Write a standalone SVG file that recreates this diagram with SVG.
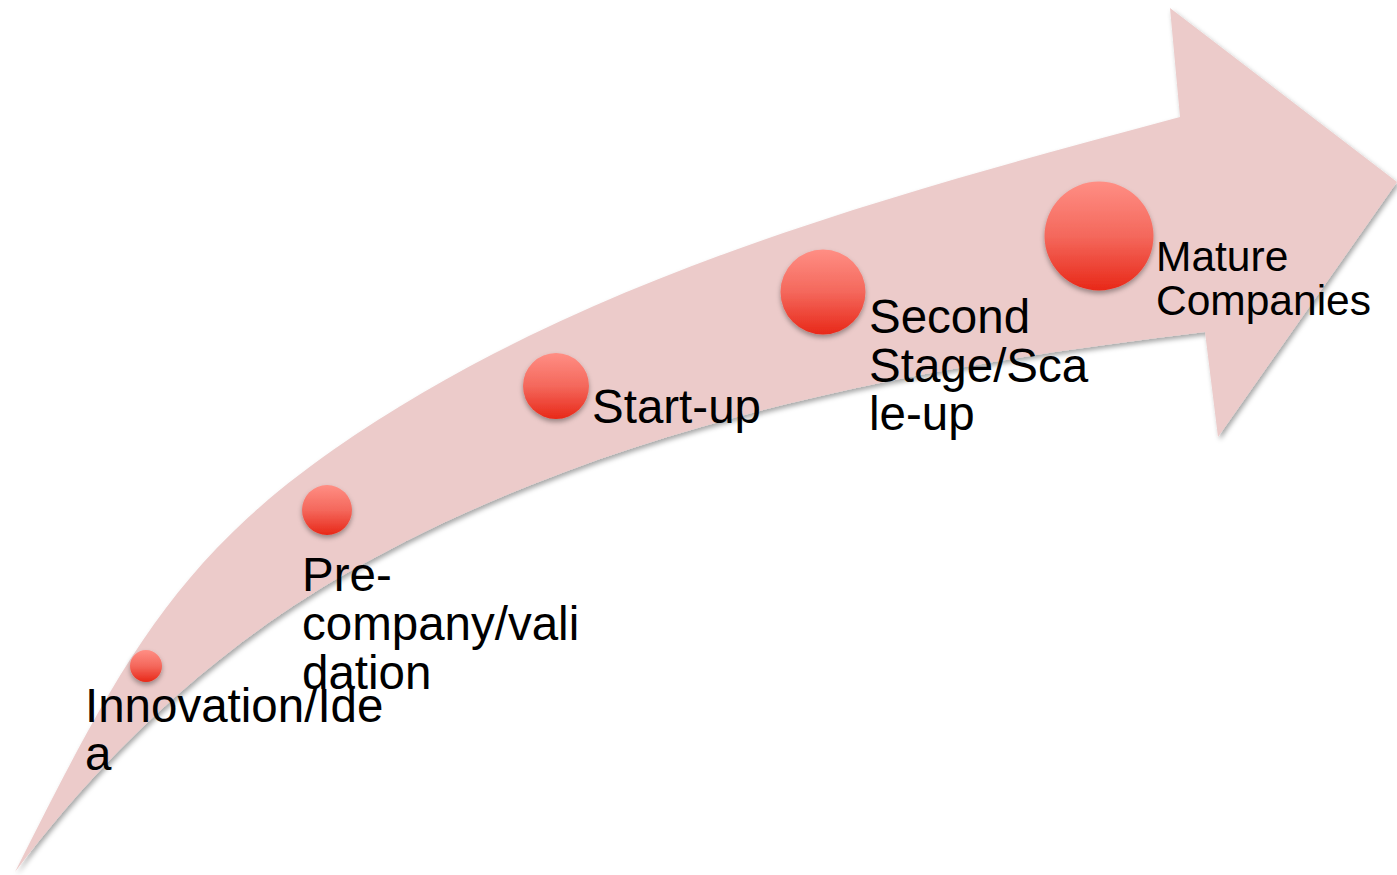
<svg xmlns="http://www.w3.org/2000/svg" width="1397" height="875" viewBox="0 0 1397 875">
  <style>
    .lbl { font-family: "Liberation Sans", Arial, sans-serif; font-size: 47.5px; fill: #000; }
    .lbl-sm { font-family: "Liberation Sans", Arial, sans-serif; font-size: 42.5px; fill: #000; }
    .dot { fill: url(#dotGrad); filter: url(#dotShadow); }
  </style>
  <defs>
    <linearGradient id="dotGrad" x1="0" y1="0" x2="0" y2="1">
      <stop offset="0" stop-color="#FF8E84"/>
      <stop offset="0.5" stop-color="#F4685C"/>
      <stop offset="1" stop-color="#E82818"/>
    </linearGradient>
    <filter id="arrowShadow" x="-5%" y="-5%" width="110%" height="115%">
      <feDropShadow dx="2" dy="3" stdDeviation="2.5" flood-color="#000" flood-opacity="0.35"/>
    </filter>
    <filter id="dotShadow" x="-30%" y="-30%" width="160%" height="170%">
      <feDropShadow dx="0" dy="3" stdDeviation="2.5" flood-color="#000" flood-opacity="0.35"/>
    </filter>
  </defs>
  <rect width="1397" height="875" fill="#fff"/>
  <g id="connectors">
    <path id="arrow" d="M 15,872 C 114,676 169,564.6 333,450 C 578.7,278.1 890.2,194.7 1180,117 L 1170,8 L 1397,182 L 1218,437 L 1205,332 C 907.1,367.7 607.7,424.5 347,573 C 216.6,647.3 105,752 15,872 Z" fill="#ECCBCA" filter="url(#arrowShadow)"/>
  </g>
  <g id="node-innovation">
    <circle class="dot" cx="146" cy="666" r="16"/>
    <text class="lbl" x="85" y="722">Innovation/Ide</text>
    <text class="lbl" x="85" y="770">a</text>
  </g>
  <g id="node-precompany">
    <circle class="dot" cx="327" cy="510" r="25"/>
    <text class="lbl" x="302" y="591">Pre-</text>
    <text class="lbl" x="302" y="640">company/vali</text>
    <text class="lbl" x="302" y="689">dation</text>
  </g>
  <g id="node-startup">
    <circle class="dot" cx="556" cy="386" r="33"/>
    <text class="lbl" x="592" y="423">Start-up</text>
  </g>
  <g id="node-secondstage">
    <circle class="dot" cx="823" cy="292" r="42.5"/>
    <text class="lbl" x="869" y="333">Second</text>
    <text class="lbl" x="869" y="382">Stage/Sca</text>
    <text class="lbl" x="869" y="430">le-up</text>
  </g>
  <g id="node-mature">
    <circle class="dot" cx="1099" cy="236" r="54.5"/>
    <text class="lbl-sm" x="1156" y="271">Mature</text>
    <text class="lbl-sm" x="1156" y="315">Companies</text>
  </g>
</svg>
